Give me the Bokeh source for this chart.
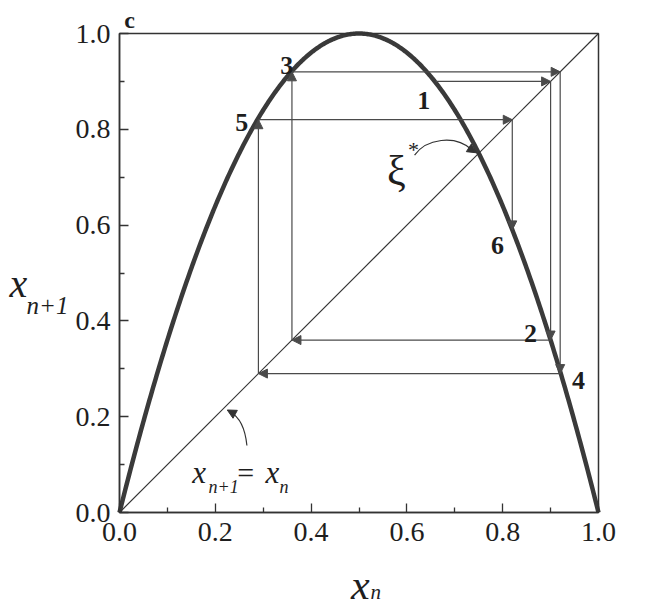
import numpy as np
from bokeh.plotting import figure
from bokeh.models import (Label, Arrow, NormalHead, ColumnDataSource, FixedTicker,
                          PrintfTickFormatter, BoxAnnotation)
from bokeh.embed import file_html
from bokeh.resources import INLINE

# ---- data ----
r_param = 4.0                       # logistic map parameter
tick_vals = [0.0, 0.2, 0.4, 0.6, 0.8, 1.0]
minor_vals = [0.1, 0.3, 0.5, 0.7, 0.9]
x_start = 0.66                      # x of iterate 1
iter_y = [0.90, 0.36, 0.92, 0.29, 0.82, 0.59]   # x_{n+1} of iterates 1..6
iter_names = ["1", "2", "3", "4", "5", "6"]
name_x = [0.635, 0.858, 0.349, 0.958, 0.255, 0.789]
name_y = [0.860, 0.374, 0.933, 0.276, 0.814, 0.557]

SERIF = "Liberation Serif"
INK = "#333333"
TXT = "#1e1e1e"

W, H = 650, 608
FL, FR, FT, FB = 119, 598, 33, 512        # box edges in figure pixels
sc = (FR - FL)
xr = (-FL / sc, 1 + (W - FR) / sc)
yr = (-(H - FB) / sc, 1 + FT / sc)

p = figure(width=W, height=H, x_range=xr, y_range=yr, title=None,
           output_backend="svg", toolbar_location=None,
           min_border=0, background_fill_color="white",
           border_fill_color="white")
p.grid.visible = False
p.outline_line_color = None

for ax in (p.xaxis[0], p.yaxis[0]):
    ax.fixed_location = 0
    ax.bounds = (tick_vals[0], tick_vals[-1])
    ax.ticker = FixedTicker(ticks=tick_vals, minor_ticks=minor_vals)
    ax.formatter = PrintfTickFormatter(format="%.1f")
    ax.major_tick_in = 9
    ax.major_tick_out = 0
    ax.minor_tick_in = 5
    ax.minor_tick_out = 0
    ax.axis_line_color = INK
    ax.axis_line_width = 1.5
    ax.major_tick_line_color = INK
    ax.minor_tick_line_color = INK
    ax.major_tick_line_width = 1.3
    ax.minor_tick_line_width = 1.3
    ax.major_label_text_font = SERIF
    ax.major_label_text_font_size = "28px"
    ax.major_label_text_color = TXT
p.xaxis.major_label_standoff = 10
p.yaxis.major_label_standoff = 9

# plot box
p.add_layout(BoxAnnotation(left=tick_vals[0], right=tick_vals[-1], bottom=tick_vals[0],
                           top=tick_vals[-1], fill_alpha=0, line_color=INK,
                           line_width=1.5, line_alpha=1))

# map curve and diagonal
xc = np.linspace(0, 1, 400)
p.line(xc, r_param * xc * (1 - xc), line_color="#3a3a3a", line_width=4.5)
p.line([0, 1], [0, 1], line_color=INK, line_width=1.2)

# cobweb
pts_x = [x_start] + iter_y[:-1]
hx0, hy0, hx1, hy1 = [], [], [], []
for k in range(len(iter_y) - 1):
    hx0.append(pts_x[k]); hy0.append(iter_y[k]); hx1.append(iter_y[k]); hy1.append(iter_y[k])
    hx0.append(iter_y[k]); hy0.append(iter_y[k]); hx1.append(iter_y[k]); hy1.append(iter_y[k + 1])
src = ColumnDataSource(dict(x0=hx0, y0=hy0, x1=hx1, y1=hy1))
p.add_layout(Arrow(x_start="x0", y_start="y0", x_end="x1", y_end="y1", source=src,
                   line_color="#4a4a4a", line_width=1.2,
                   end=NormalHead(size=9, fill_color="#4a4a4a", line_color="#4a4a4a",
                                  line_width=1)))


def lab(x, y, text, size, style="normal", align="left"):
    p.add_layout(Label(x=x, y=y, text=text, text_align=align, text_baseline="alphabetic",
                       text_font=SERIF, text_font_style=style, text_font_size=size,
                       text_color=TXT))


for nm, nx, ny in zip(iter_names, name_x, name_y):
    lab(nx, ny, nm, "26px", "bold", "center")

# xi* annotation
p.bezier(x0=[0.616], y0=[0.746], x1=[0.736], y1=[0.757], cx0=[0.64], cy0=[0.78],
         cx1=[0.70], cy1=[0.79], line_color=INK, line_width=1.2)
p.add_layout(Arrow(x_start=0.728, y_start=0.762, x_end=0.745, y_end=0.751,
                   line_color=INK, line_width=1.2,
                   end=NormalHead(size=9, fill_color=INK, line_color=INK)))
lab(0.578, 0.712, "ξ", "42px", "normal", "center")
lab(0.614, 0.758, "*", "22px", "normal", "center")

# diagonal annotation
p.bezier(x0=[0.266], y0=[0.140], x1=[0.231], y1=[0.210], cx0=[0.262], cy0=[0.18],
         cx1=[0.250], cy1=[0.200], line_color=INK, line_width=1.2)
p.add_layout(Arrow(x_start=0.236, y_start=0.208, x_end=0.225, y_end=0.214,
                   line_color=INK, line_width=1.2,
                   end=NormalHead(size=9, fill_color=INK, line_color=INK)))
lab(0.152, 0.0835, "x", "31px", "italic")
lab(0.186, 0.054, "n+1", "18px", "italic")
lab(0.246, 0.0835, "=", "30px")
lab(0.305, 0.0835, "x", "31px", "italic")
lab(0.334, 0.054, "n", "18px", "italic")

# panel letter
lab(0.021, 1.029, "c", "24px", "bold", "center")

# axis labels
lab(0.503, -0.1524, "x", "42px", "italic", "center")
lab(0.524, -0.1670, "n", "21px", "italic")
lab(-0.2296, 0.478, "x", "40px", "italic")
lab(-0.194, 0.432, "n+1", "25px", "italic")

open("out.html", "w").write(file_html(p, INLINE))
